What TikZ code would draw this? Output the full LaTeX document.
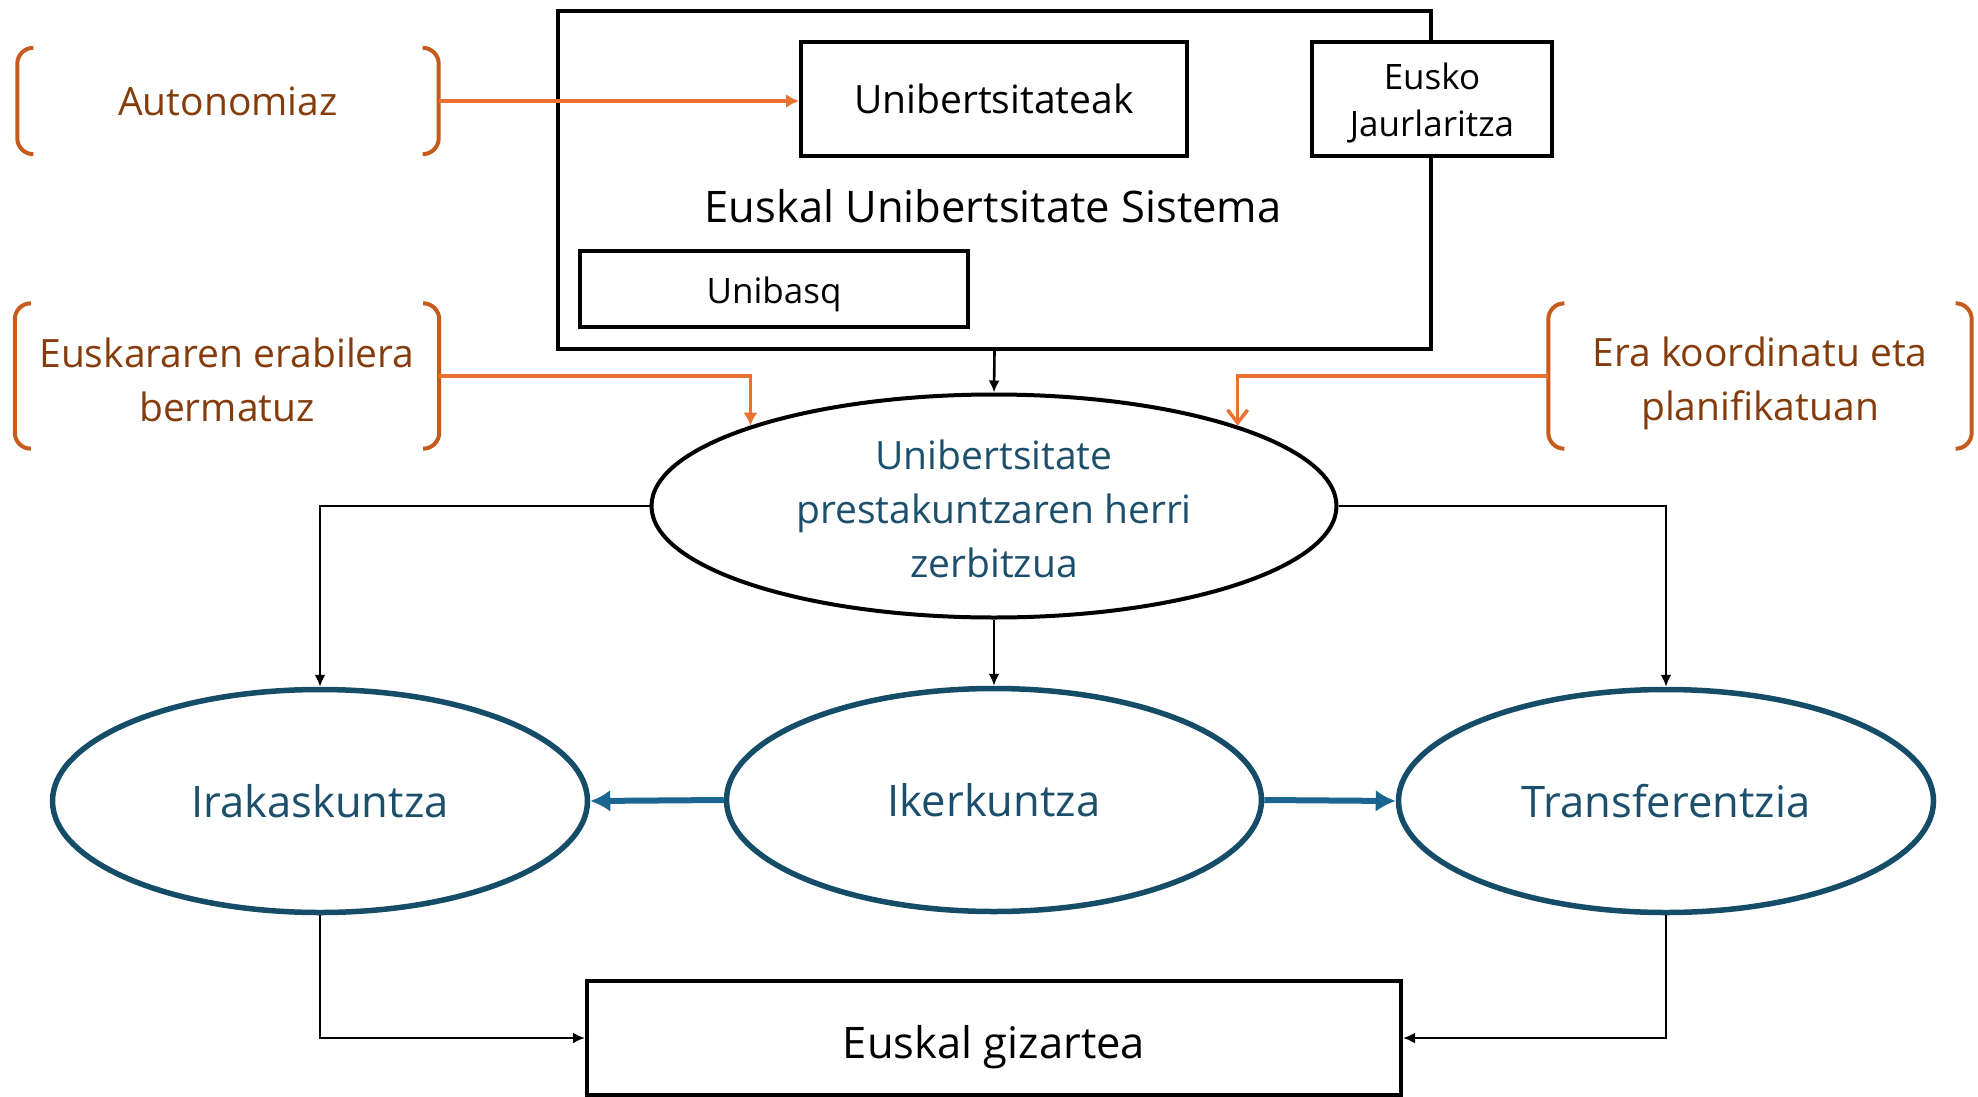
\documentclass[tikz,border=0pt]{standalone}
\usepackage{fontspec}
\setmainfont{Open Sans}
\usepackage{tikz}
\usetikzlibrary{arrows.meta}
\usetikzlibrary{shapes.geometric}
\definecolor{orline}{HTML}{E97132}
\definecolor{orbrk}{HTML}{C65B1B}
\definecolor{ortext}{HTML}{843C0C}
\definecolor{bltext}{HTML}{1B4F6B}
\definecolor{blline}{HTML}{154C68}
\definecolor{blarrow}{HTML}{1A6690}
\newcommand{\fbig}{\fontsize{43.5}{52}\selectfont}
\newcommand{\fmid}{\fontsize{39}{54}\selectfont}
\newcommand{\fsml}{\fontsize{35}{47}\selectfont}
\tikzset{box/.style={draw, line width=4pt, fill=white, inner sep=0pt, align=center}}
\tikzset{brnode/.style={inner sep=0pt, align=center, text=ortext, font=\fmid}}
\tikzset{brk/.style={draw=orbrk, line width=4pt, rounded corners=16pt}}
\tikzset{oarr/.style={-{Latex[length=13pt,width=14pt]}, draw=orline, line width=3.5pt}}
\tikzset{barr/.style={-{Latex[length=12pt,width=11pt]}, line width=2.6pt}}
\tikzset{blarr/.style={-{Latex[length=20pt,width=22pt]}, draw=blarrow, line width=6pt}}
\tikzset{mainell/.style={ellipse, draw, line width=4pt, inner sep=0pt,
      minimum width=685pt, minimum height=223pt, align=center, text=bltext, font=\fmid}}
\tikzset{bluell/.style={ellipse, draw=blline, line width=5.5pt, fill=white, inner sep=0pt,
      minimum width=535pt, minimum height=223pt, text=bltext, font=\fbig}}

\begin{document}
\begin{tikzpicture}[x=1pt, y=-1pt]
\useasboundingbox (0,0) rectangle (1978,1097);
		% system box
		\node[box, fill=none, minimum width=873pt, minimum height=338pt] (eus) at (994.5,180) {};
		\node[font=\fbig] (eustxt) at (993,206) {Euskal Unibertsitate Sistema};
		\node[box, minimum width=386pt, minimum height=114pt, font=\fmid] (unib) at (994,99) {Unibertsitateak};
		\node[box, minimum width=240pt, minimum height=114pt, font=\fsml] (gov) at (1432,99) {\rule{0pt}{34.6pt}Eusko\\Jaurlaritza};
		\node[box, minimum width=388pt, minimum height=76pt, font=\fsml] (unibasq) at (774,289) {\rule{0pt}{36.6pt}Unibasq};
		% ellipses
		\node[mainell] (zerb) at (994,506) {\rule{0pt}{35.6pt}Unibertsitate\\prestakuntzaren herri\\zerbitzua};
		\node[bluell] (irak) at (320,801) {Irakaskuntza};
		\node[bluell] (iker) at (994,800) {Ikerkuntza};
		\node[bluell] (trans) at (1666,801) {Transferentzia};
		\node[box, minimum width=814pt, minimum height=114pt, font=\fbig] (gizar) at (994,1038) {\rule{0pt}{51pt}Euskal gizartea};
		% orange notes
		\node[brnode, minimum width=421pt, minimum height=106pt] (auto) at (228,101) {Autonomiaz};
		\node[brnode, minimum width=424pt, minimum height=145pt] (eusk) at (227,376) {\rule{0pt}{37.6pt}Euskararen erabilera\\bermatuz};
		\node[brnode, minimum width=423pt, minimum height=145pt] (era) at (1760,376) {\rule{0pt}{43.6pt}Era koordinatu eta\\planifikatuan};
		\foreach \b in {auto,eusk,era} {
			\draw[brk] ([xshift=14pt]\b.north west) -- (\b.north west) -- (\b.south west) -- ([xshift=14pt]\b.south west);
			\draw[brk] ([xshift=-14pt]\b.north east) -- (\b.north east) -- (\b.south east) -- ([xshift=-14pt]\b.south east);
		}
		\draw[oarr] (auto.east) -- (auto.east -| unib.west);
		\draw[oarr] (eusk.east) -| (zerb.north west);
		\draw[oarr, -{Straight Barb[length=13pt,width=20pt]}] (era.west) -| (zerb.north east);
		% black connectors
		\draw[barr] (eus.south) to (zerb.north);
		\draw[barr] (zerb.west) -| (irak.north);
		\draw[barr] (zerb.south) to (iker.north);
		\draw[barr] (zerb.east) -| (trans.north);
		\draw[barr] (irak.south) |- (gizar.west);
		\draw[barr] (trans.south) |- (gizar.east);
		% blue arrows
		\draw[blarr] (iker.west) to (irak.east);
		\draw[blarr] (iker.east) to (trans.west);
\end{tikzpicture}
\end{document}
